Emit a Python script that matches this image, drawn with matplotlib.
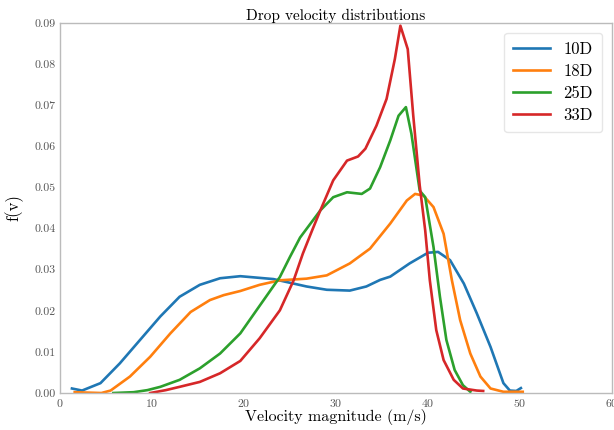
import matplotlib
matplotlib.use("Agg")
import matplotlib.pyplot as plt

# Dati (velocita in m/s, densita f(v))
v_10D = [1.3, 2.4, 4.4, 6.5, 8.7, 10.9, 13.0, 15.2, 17.4, 19.6, 23.2, 26.8, 29.0, 31.5, 33.3, 34.8,
         35.9, 38.0, 40.0, 41.1, 42.4, 43.9, 45.3, 46.8, 48.2, 48.9, 49.6, 50.1]
f_10D = [0.0011, 0.0006, 0.0024, 0.0072, 0.0129, 0.0186, 0.0234, 0.0263, 0.0279, 0.0284, 0.0277, 0.0259,
         0.0251, 0.0249, 0.0259, 0.0275, 0.0283, 0.0315, 0.0341, 0.0343, 0.0323, 0.0266, 0.0194, 0.0112,
         0.0024, 0.0006, 0.0005, 0.0012]

v_18D = [1.6, 3.0, 4.5, 5.5, 7.6, 9.8, 12.0, 14.2, 16.3, 17.8, 19.6, 21.7, 23.9, 26.8, 29.0, 31.5, 33.7,
         35.9, 37.7, 38.6, 39.5, 40.6, 41.7, 42.6, 43.5, 44.6, 45.7, 46.8, 48.2, 50.3]
f_18D = [0.0002, 0.0001, 0.0000, 0.0006, 0.0040, 0.0088, 0.0145, 0.0197, 0.0226, 0.0238, 0.0248, 0.0263,
         0.0274, 0.0278, 0.0286, 0.0315, 0.0351, 0.0412, 0.0468, 0.0484, 0.0480, 0.0452, 0.0387, 0.0274,
         0.0177, 0.0096, 0.0040, 0.0011, 0.0003, 0.0003]

v_25D = [5.8, 8.0, 9.5, 10.9, 13.0, 15.2, 17.4, 19.6, 21.7, 23.9, 25.0, 26.1, 28.3, 29.7, 31.2, 32.8,
         33.7, 34.8, 35.9, 36.8, 37.6, 38.2, 39.1, 39.7, 40.6, 41.3, 42.0, 42.9, 43.8, 44.6]
f_25D = [0.0000, 0.0002, 0.0007, 0.0015, 0.0032, 0.0060, 0.0096, 0.0145, 0.0212, 0.0282, 0.0331, 0.0378,
         0.0444, 0.0476, 0.0488, 0.0484, 0.0497, 0.0549, 0.0614, 0.0674, 0.0695, 0.0630, 0.0492, 0.0476,
         0.0355, 0.0234, 0.0129, 0.0056, 0.0019, 0.0003]

v_33D = [9.8, 11.5, 13.0, 15.2, 17.4, 19.6, 21.7, 23.9, 25.4, 26.4, 27.4, 28.3, 29.7, 31.2, 32.4, 33.2,
         34.4, 35.5, 36.4, 37.0, 37.8, 38.4, 39.1, 39.7, 40.2, 40.9, 41.7, 42.8, 43.8, 45.3, 46.0]
f_33D = [0.0000, 0.0007, 0.0015, 0.0027, 0.0048, 0.0078, 0.0133, 0.0201, 0.0274, 0.0339, 0.0395, 0.0444,
         0.0517, 0.0565, 0.0575, 0.0594, 0.0650, 0.0715, 0.0812, 0.0893, 0.0836, 0.0674, 0.0505, 0.0395,
         0.0274, 0.0153, 0.0080, 0.0032, 0.0011, 0.0006, 0.0005]

serie = [("10D", v_10D, f_10D, "#1f77b4"),
         ("18D", v_18D, f_18D, "#ff7f0e"),
         ("25D", v_25D, f_25D, "#2ca02c"),
         ("33D", v_33D, f_33D, "#d62728")]

# Stile tipo LaTeX
plt.rcParams["font.family"] = ["cmr10", "DejaVu Serif"]
plt.rcParams["mathtext.fontset"] = "cm"
plt.rcParams["axes.formatter.use_mathtext"] = True

fig = plt.figure(figsize=(6.14, 4.30), dpi=100)
ax = fig.add_axes([0.0977, 0.086, 0.899, 0.861])

for nome, v, f, colore in serie:
    ax.plot(v, f, color=colore, linewidth=1.9, label=nome)

ax.set_xlim(0, 60)
ax.set_ylim(0, 0.09)
ax.set_xticks([0, 10, 20, 30, 40, 50, 60])
ax.set_yticks([0.00, 0.01, 0.02, 0.03, 0.04, 0.05, 0.06, 0.07, 0.08, 0.09])
ax.set_yticklabels(["0.00", "0.01", "0.02", "0.03", "0.04", "0.05", "0.06", "0.07", "0.08", "0.09"])
ax.tick_params(length=0, labelsize=8.5, pad=3, colors="#555555")
for s in ax.spines.values():
    s.set_color("#bbbbbb")
    s.set_linewidth(1.0)

ax.set_title("Drop velocity distributions", fontsize=11, pad=1)
ax.set_xlabel("Velocity magnitude (m/s)", fontsize=11.5, labelpad=0)
ax.set_ylabel("f(v)", fontsize=12, labelpad=8)

leg = ax.legend(loc="upper right", fontsize=12, frameon=True, borderpad=0.55,
                handlelength=2.2, labelspacing=0.4, borderaxespad=0.6)
leg.get_frame().set_edgecolor("#e0e0e0")

fig.savefig("out.png", dpi=100)
